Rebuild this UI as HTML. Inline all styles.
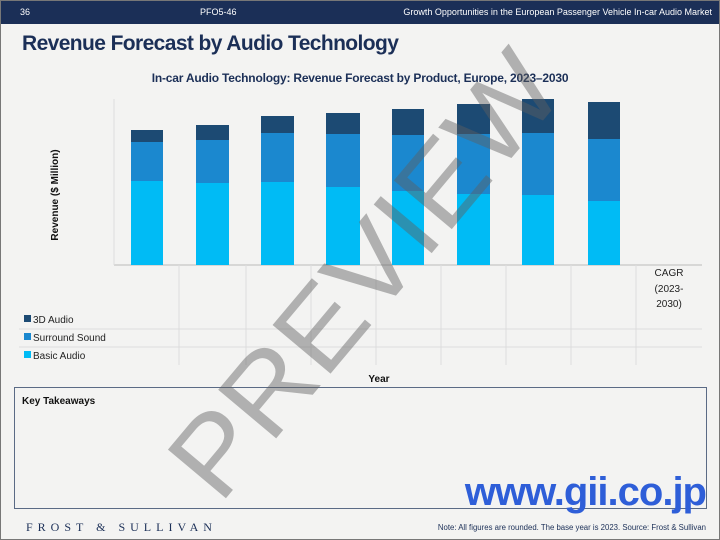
<!DOCTYPE html>
<html><head><meta charset="utf-8"><style>
html,body{margin:0;width:720px;height:540px;overflow:hidden}
body{background:#f3f3f2;font-family:"Liberation Sans",sans-serif;position:relative}
.hdr{position:absolute;left:0;top:0;width:720px;height:24px;background:#1b2f57;color:#fff;font-size:9px}
.hdr span{position:absolute;top:7px}
.t{position:absolute;left:22px;top:32px;font-size:21px;font-weight:bold;color:#1b2f57;letter-spacing:-0.6px}
.st{position:absolute;left:0;width:720px;text-align:center;top:71px;font-size:12px;font-weight:bold;color:#1b2f57;letter-spacing:-0.2px}
</style></head><body>
<div class="hdr"><span style="left:20px">36</span><span style="left:200px">PFO5-46</span><span style="right:8px">Growth Opportunities in the European Passenger Vehicle In-car Audio Market</span></div>
<div class="t">Revenue Forecast by Audio Technology</div>
<div class="st">In-car Audio Technology: Revenue Forecast by Product, Europe, 2023–2030</div>
<svg width="720" height="540" style="position:absolute;left:0;top:0" font-family="Liberation Sans, sans-serif">
<line x1="114" y1="265" x2="702" y2="265" stroke="#bbb"/>
<line x1="114" y1="99" x2="114" y2="265" stroke="#ddd"/>
<g stroke="#ddd"><line x1="179" y1="265" x2="179" y2="365"/><line x1="246" y1="265" x2="246" y2="365"/><line x1="311" y1="265" x2="311" y2="365"/><line x1="376" y1="265" x2="376" y2="365"/><line x1="441" y1="265" x2="441" y2="365"/><line x1="506" y1="265" x2="506" y2="365"/><line x1="571" y1="265" x2="571" y2="365"/><line x1="636" y1="265" x2="636" y2="365"/>
<line x1="19" y1="329" x2="702" y2="329"/><line x1="19" y1="347" x2="702" y2="347"/></g>
<g>
<rect x="131" y="181" width="32" height="84" fill="#00bbf5"/><rect x="131" y="142" width="32" height="39" fill="#1b88cf"/><rect x="131" y="130" width="32" height="12" fill="#1c4a73"/>
<rect x="196" y="183" width="33" height="82" fill="#00bbf5"/><rect x="196" y="140" width="33" height="43" fill="#1b88cf"/><rect x="196" y="125" width="33" height="15" fill="#1c4a73"/>
<rect x="261" y="182" width="33" height="83" fill="#00bbf5"/><rect x="261" y="133" width="33" height="49" fill="#1b88cf"/><rect x="261" y="116" width="33" height="17" fill="#1c4a73"/>
<rect x="326" y="187" width="34" height="78" fill="#00bbf5"/><rect x="326" y="134" width="34" height="53" fill="#1b88cf"/><rect x="326" y="113" width="34" height="21" fill="#1c4a73"/>
<rect x="392" y="191" width="32" height="74" fill="#00bbf5"/><rect x="392" y="135" width="32" height="56" fill="#1b88cf"/><rect x="392" y="109" width="32" height="26" fill="#1c4a73"/>
<rect x="457" y="194" width="33" height="71" fill="#00bbf5"/><rect x="457" y="134" width="33" height="60" fill="#1b88cf"/><rect x="457" y="104" width="33" height="30" fill="#1c4a73"/>
<rect x="522" y="195" width="32" height="70" fill="#00bbf5"/><rect x="522" y="133" width="32" height="62" fill="#1b88cf"/><rect x="522" y="99" width="32" height="34" fill="#1c4a73"/>
<rect x="588" y="201" width="32" height="64" fill="#00bbf5"/><rect x="588" y="139" width="32" height="62" fill="#1b88cf"/><rect x="588" y="102" width="32" height="37" fill="#1c4a73"/>
</g>
<text x="58" y="195" font-size="10" font-weight="bold" transform="rotate(-90 58 195)" text-anchor="middle" fill="#111">Revenue ($ Million)</text>
<g font-size="10" fill="#222" text-anchor="middle"><text x="669" y="276">CAGR</text><text x="669" y="292">(2023-</text><text x="669" y="307">2030)</text></g>
<g font-size="10" fill="#222">
<rect x="24" y="315" width="7" height="7" fill="#1c4a73"/><text x="33" y="323">3D Audio</text>
<rect x="24" y="333" width="7" height="7" fill="#1b88cf"/><text x="33" y="341">Surround Sound</text>
<rect x="24" y="351" width="7" height="7" fill="#00bbf5"/><text x="33" y="359">Basic Audio</text>
</g>
<text x="379" y="382" font-size="10" font-weight="bold" text-anchor="middle" fill="#111">Year</text>
<rect x="14.5" y="387.5" width="692" height="121" fill="none" stroke="#5a6a85" stroke-width="1"/>
<text x="22" y="404" font-size="10" font-weight="bold" fill="#111">Key Takeaways</text>
<text x="706" y="505" font-size="40" font-weight="bold" fill="#2e5ed8" text-anchor="end" letter-spacing="-1">www.gii.co.jp</text>
<text x="26" y="531" font-size="12" fill="#1b2f57" font-family="Liberation Serif, serif" letter-spacing="5">FROST &amp; SULLIVAN</text>
<text x="706" y="530" font-size="7.8" fill="#1b2f57" text-anchor="end">Note: All figures are rounded. The base year is 2023. Source: Frost &amp; Sullivan</text>
<text x="365" y="312" font-size="110" fill="rgba(95,95,95,0.45)" text-anchor="middle" textLength="540" lengthAdjust="spacingAndGlyphs" transform="rotate(-50 365 275)">PREVIEW</text>
<rect x="0.5" y="0.5" width="719" height="539" fill="none" stroke="#777"/>
</svg>
</body></html>
